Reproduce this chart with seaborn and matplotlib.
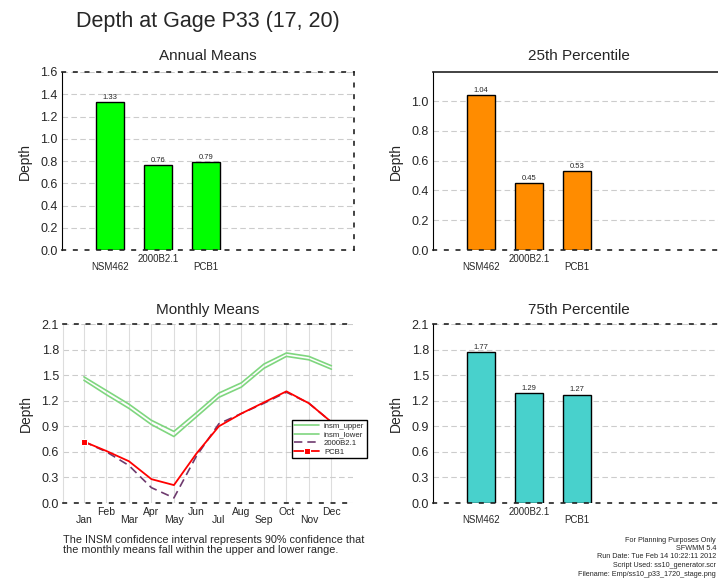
import numpy as np
import pandas as pd
import seaborn as sns
import matplotlib
matplotlib.use('Agg')
import matplotlib.pyplot as plt

# 数据
scenarios = ['NSM462', '2000B2.1', 'PCB1']
annual_means = [1.33, 0.76, 0.79]
pct25 = [1.04, 0.45, 0.53]
pct75 = [1.77, 1.29, 1.27]

months = ['Jan', 'Feb', 'Mar', 'Apr', 'May', 'Jun', 'Jul', 'Aug', 'Sep', 'Oct', 'Nov', 'Dec']
insm_upper = [1.48, 1.32, 1.16, 0.97, 0.84, 1.06, 1.29, 1.41, 1.63, 1.76, 1.72, 1.61]
insm_lower = [1.44, 1.27, 1.11, 0.92, 0.78, 1.01, 1.24, 1.36, 1.58, 1.72, 1.68, 1.57]
b2000 = [0.72, 0.60, 0.44, 0.18, 0.06, 0.55, 0.93, 1.05, 1.17, 1.30, 1.17, 0.95]
pcb1 = [0.72, 0.61, 0.49, 0.28, 0.21, 0.58, 0.90, 1.05, 1.18, 1.31, 1.17, 0.95]

footer_lines = ['For Planning Purposes Only', 'SFWMM 5.4', 'Run Date: Tue Feb 14 10:22:11 2012',
                'Script Used: ss10_generator.scr', 'Filename: Emp/ss10_p33_1720_stage.png']

sns.set_style('white')
plt.rcParams['font.family'] = ['Liberation Sans', 'DejaVu Sans']

W, H = 718, 579
fig = plt.figure(figsize=(W / 100, H / 100), dpi=100)


def px_axes(left, top, right, bottom):
    return fig.add_axes([left / W, 1 - bottom / H, (right - left) / W, (bottom - top) / H])


def style_bar_axes(ax, ymax, step, top_solid=False):
    ax.set_ylim(0, ymax)
    ax.set_xlim(-1, 5.08)
    ticks = np.round(np.arange(0, ymax + 1e-6, step), 2)
    ticks = ticks[ticks <= ymax + 1e-6]
    ax.set_yticks(ticks)
    ax.set_yticklabels([f'{t:.1f}' for t in ticks], fontsize=9)
    ax.yaxis.grid(True, color='#cccccc', linestyle=(0, (5, 3)), linewidth=0.8)
    ax.set_axisbelow(True)
    ax.tick_params(length=0, pad=3)
    for s in ['top', 'right', 'bottom']:
        ax.spines[s].set_linestyle((0, (2, 5)))
        ax.spines[s].set_color('#222222')
        ax.spines[s].set_linewidth(1.2)
    if top_solid:
        ax.spines['top'].set_linestyle('-')
    ax.spines['left'].set_color('black')
    ax.set_xticks([0, 1, 2])
    labs = ax.set_xticklabels(scenarios, fontsize=7)
    labs[0].set_y(-0.045)
    labs[2].set_y(-0.045)
    ax.set_xlabel('')
    ax.set_ylabel('Depth', fontsize=10, labelpad=6)


def draw_bars(ax, vals, color):
    df = pd.DataFrame({'scenario': scenarios, 'depth': vals})
    sns.barplot(data=df, x='scenario', y='depth', color=color, edgecolor='black',
                linewidth=1.0, width=0.57, saturation=1, ax=ax)
    for c in ax.containers:
        ax.bar_label(c, fmt='%.2f', fontsize=5.5, padding=1)


# 1. Annual Means
ax1 = px_axes(62, 72, 354, 250)
draw_bars(ax1, annual_means, '#00ff00')
style_bar_axes(ax1, 1.6, 0.2)
ax1.set_title('Annual Means', fontsize=11, pad=9)

# 2. 25th Percentile
ax2 = px_axes(433, 72, 725, 250)
draw_bars(ax2, pct25, '#ff8c00')
style_bar_axes(ax2, 1.195, 0.2, top_solid=True)
ax2.set_yticks([0, 0.2, 0.4, 0.6, 0.8, 1.0])
ax2.set_yticklabels(['0.0', '0.2', '0.4', '0.6', '0.8', '1.0'], fontsize=9)
ax2.set_title('25th Percentile', fontsize=11, pad=9)

# 3. Monthly Means
ax3 = px_axes(63, 324, 353, 503)
idx = np.arange(12)
sns.lineplot(x=idx, y=insm_upper, color='#7fd67f', linewidth=1.2, label='insm_upper', ax=ax3)
sns.lineplot(x=idx, y=insm_lower, color='#7fd67f', linewidth=1.2, label='insm_lower', ax=ax3)
sns.lineplot(x=idx, y=b2000, color='#6e3a6e', linewidth=1.2, linestyle=(0, (5, 3)), label='2000B2.1', ax=ax3)
sns.lineplot(x=idx, y=pcb1, color='red', linewidth=1.3, marker='s', markersize=4,
             markevery=[0], label='PCB1', ax=ax3)
ax3.set_xlim(-0.93, 11.96)
ax3.set_ylim(0, 2.1)
ax3.set_yticks(np.round(np.arange(0, 2.11, 0.3), 1))
ax3.set_yticklabels([f'{t:.1f}' for t in np.arange(0, 2.11, 0.3)], fontsize=9)
ax3.set_xticks(idx)
mlabs = ax3.set_xticklabels(months, fontsize=7.5)
for lab in mlabs[::2]:
    lab.set_y(-0.045)
ax3.xaxis.grid(True, color='#dddddd', linewidth=0.8)
ax3.yaxis.grid(True, color='#cccccc', linestyle=(0, (5, 3)), linewidth=0.8)
ax3.set_axisbelow(True)
ax3.tick_params(length=0, pad=3)
for s in ['top', 'bottom']:
    ax3.spines[s].set_linestyle((0, (2, 5)))
    ax3.spines[s].set_color('#222222')
    ax3.spines[s].set_linewidth(1.2)
ax3.spines['right'].set_visible(False)
ax3.spines['left'].set_color('#dddddd')
ax3.set_ylabel('Depth', fontsize=10, labelpad=6)
ax3.set_title('Monthly Means', fontsize=11, pad=7)
leg = ax3.legend(loc='upper left', bbox_to_anchor=(0.79, 0.464), fontsize=5.6, frameon=True,
                 fancybox=False, edgecolor='black', framealpha=1, borderpad=0.3,
                 labelspacing=0.15, handlelength=3.2, handletextpad=0.6, borderaxespad=0)
leg.get_frame().set_linewidth(1.0)
leg.set_zorder(10)

# 4. 75th Percentile
ax4 = px_axes(433, 324, 725, 503)
draw_bars(ax4, pct75, '#48d1cc')
style_bar_axes(ax4, 2.1, 0.3)
ax4.set_title('75th Percentile', fontsize=11, pad=7)

# 文本
fig.text(208 / W, 1 - 22 / H, 'Depth at Gage P33 (17, 20)', fontsize=15.5, ha='center', va='center')
fig.text(63 / W, 1 - 545 / H, 'The INSM confidence interval represents 90% confidence that\n'
         'the monthly means fall within the upper and lower range.',
         fontsize=7.8, ha='left', va='center', linespacing=1.1)
for i, line in enumerate(footer_lines):
    fig.text(716 / W, 1 - (540 + i * 8.5) / H, line, fontsize=5.2, ha='right', va='center')

fig.savefig('out.png', dpi=100)
